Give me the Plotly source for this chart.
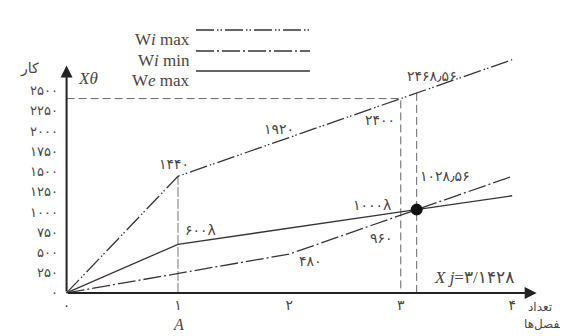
# -*- coding: utf-8 -*-
# work vs number of joints chart (scanned textbook style)
import plotly.graph_objects as go

# --------------------------------------------------------
# DATA:
x_wimax = [0, 1, 3, 4]
y_wimax = [0, 1440, 2400, 2880]

x_wimin = [0, 2, 3, 4]
y_wimin = [0, 480, 960, 1440]

x_wemax = [0, 1, 3, 4]
y_wemax = [0, 600, 1000, 1200]

xj = 3.1428
yj = 1028.56
y_at_xj_max = 2468.56

x_ticks = [0, 1, 2, 3, 4]
x_ticktext = ["۰", "۱", "۲", "۳", "۴"]
y_ticks = [0, 250, 500, 750, 1000, 1250, 1500, 1750, 2000, 2250, 2500]
y_ticktext = ["۰", "۲۵۰", "۵۰۰", "۷۵۰", "۱۰۰۰", "۱۲۵۰", "۱۵۰۰",
              "۱۷۵۰", "۲۰۰۰", "۲۲۵۰", "۲۵۰۰"]
# --------------------------------------------------------

INK = "#3a3333"
TXT = "#4a4444"
SERIF = "Liberation Serif, DejaVu Serif, DejaVu Sans"
FA = "DejaVu Sans, Noto Sans"

W, H = 568, 336
L, R, T, B = 53, 36, 42, 43
pw, ph = W - L - R, H - T - B


def px(x, y):
    # pixel -> paper coordinates
    return (x - L) / pw, (H - B - y) / ph


DASH_MAX = "18px,3px,1.5px,2px,1.5px,3px"
DASH_MIN = "18px,3px,2px,3px"

fig = go.Figure()

# guide lines
fig.add_trace(go.Scatter(x=[0, 3, 3], y=[y_wimax[2], y_wimax[2], 0], mode="lines",
                         line=dict(color="#666", width=1, dash="8px,4px"),
                         hoverinfo="skip"))
fig.add_trace(go.Scatter(x=[xj, xj], y=[0, y_at_xj_max], mode="lines",
                         line=dict(color="#666", width=1, dash="8px,4px"),
                         hoverinfo="skip"))
fig.add_trace(go.Scatter(x=[1, 1], y=[0, y_wimax[1]], mode="lines",
                         line=dict(color="#777", width=1, dash="10px,2px"),
                         hoverinfo="skip"))

fig.add_trace(go.Scatter(x=x_wimax, y=y_wimax, mode="lines",
                         line=dict(color=INK, width=1.3, dash=DASH_MAX)))
fig.add_trace(go.Scatter(x=x_wimin, y=y_wimin, mode="lines",
                         line=dict(color=INK, width=1.3, dash=DASH_MIN)))
fig.add_trace(go.Scatter(x=x_wemax, y=y_wemax, mode="lines",
                         line=dict(color=INK, width=1.3)))
fig.add_trace(go.Scatter(x=[xj], y=[yj], mode="markers",
                         marker=dict(color="#111", size=12)))

ann = []
# axes with arrows
ann.append(dict(x=4.22, y=0, ax=0, ay=0, xref="x", yref="y", axref="x", ayref="y",
                text="", showarrow=True, arrowhead=2, arrowsize=1.2,
                arrowwidth=2, arrowcolor="#222"))
ann.append(dict(x=0, y=2810, ax=0, ay=0, xref="x", yref="y", axref="x", ayref="y",
                text="", showarrow=True, arrowhead=2, arrowsize=1.2,
                arrowwidth=2, arrowcolor="#222"))


def lab(x, y, t, size=14):
    ann.append(dict(x=x, y=y, xref="x", yref="y", text=t, showarrow=False,
                    font=dict(family=FA, size=size, color=TXT)))


lab(0.96, 1593, "۱۴۴۰")
lab(1.91, 2025, "۱۹۲۰")
lab(2.81, 2136, "۲۴۰۰")
lab(3.28, 2679, "۲۴۶۸٫۵۶")
lab(2.74, 1086, "۱۰۰۰λ")
lab(1.2, 778, "۶۰۰λ")
lab(2.19, 395, "۴۸۰")
lab(2.83, 679, "۹۶۰")
lab(3.40, 1444, "۱۰۲۸٫۵۶")
ann.append(dict(x=3.66, y=185, xref="x", yref="y", showarrow=False,
                text="<i>X j</i>=۳/۱۴۲۸",
                font=dict(family=SERIF, size=17, color=TXT)))


def ptext(x, y, t, size=14, anchor="center", fam=SERIF):
    xp, yp = px(x, y)
    ann.append(dict(x=xp, y=yp, xref="paper", yref="paper", text=t,
                    showarrow=False, xanchor=anchor,
                    font=dict(family=fam, size=size, color=TXT)))


ptext(170, 327, "<i>A</i>", 16)
ptext(80, 59, "<i>Xθ</i>", 17)
ptext(21, 50, "کار", 14, fam=FA)
ptext(546, 308, "تعداد", 12, anchor="right", fam=FA)
ptext(560, 325, "مفصل‌ها", 12, anchor="right", fam=FA)

# legend drawn by hand: text then long line sample
shapes = []
legend_rows = [("W<i>i</i> max", DASH_MAX, 21),
               ("W<i>i</i> min", DASH_MIN, 42),
               ("W<i>e</i> max", "solid", 62)]
for name, dash, yy in legend_rows:
    ptext(184, yy - 1, name, 17, anchor="right")
    x0, y0 = px(188, yy + 1)
    x1, _ = px(302, yy + 1)
    shapes.append(dict(type="line", xref="paper", yref="paper",
                       x0=x0, x1=x1, y0=y0, y1=y0,
                       line=dict(color=INK, width=1.3, dash=dash)))

fig.update_layout(
    width=W, height=H,
    margin=dict(l=L, r=R, t=T, b=B),
    plot_bgcolor="white", paper_bgcolor="white",
    showlegend=False,
    annotations=ann, shapes=shapes,
    xaxis=dict(range=[-0.05, 4.25], showgrid=False, zeroline=False,
               showline=False, tickvals=x_ticks, ticktext=x_ticktext,
               ticks="", ticklabelstandoff=-6,
               tickfont=dict(family=FA, size=14, color=TXT)),
    yaxis=dict(range=[-100, 3000], showgrid=False, zeroline=False,
               showline=False, tickvals=y_ticks, ticktext=y_ticktext,
               ticks="", ticklabelstandoff=2,
               tickfont=dict(family=FA, size=13, color=TXT)),
)

fig.write_html("out.html")
